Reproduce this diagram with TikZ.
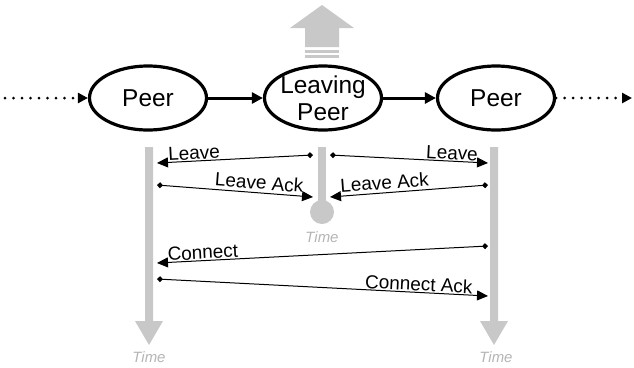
\documentclass[tikz,border=0pt]{standalone}
\usepackage{fontspec}
\setmainfont{Liberation Sans}
\usetikzlibrary{arrows.meta,shapes.geometric}
\definecolor{lifegray}{RGB}{200,200,200}
\definecolor{timegray}{RGB}{180,180,180}

\begin{document}
\begin{tikzpicture}[x=1bp,y=-1bp,
  peer/.style={ellipse,draw,line width=3.2bp,minimum width=117bp,minimum height=64bp,inner sep=0pt},
  peertext/.style={font=\fontsize{24.5}{27}\selectfont,align=center,inner sep=0pt},
  link/.style={line width=3bp,-{Triangle[length=11bp,width=11bp]}},
  dots/.style={line width=3bp,line cap=round,dash pattern=on 0bp off 8.5bp,-{Triangle[length=10bp,width=10bp]}},
  msg/.style={line width=1bp,{Diamond[length=6bp,width=6bp]}-{Triangle[length=11bp,width=10bp]}},
  msglabel/.style={font=\fontsize{19}{21}\selectfont,sloped,inner sep=0pt},
  life/.style={fill=lifegray,draw=none},
  timelabel/.style={font=\fontsize{15}{17}\itshape,text=timegray,inner sep=0pt}]
\useasboundingbox (0,0) rectangle (634,367);

% departure arrow above the leaving peer
\fill[life] (322,5) -- (354,28) -- (339,28) -- (339,47) -- (305,47) -- (305,28) -- (290,28) -- cycle;
\fill[life] (305,50) rectangle (339,53);
\fill[life] (305,55) rectangle (339,58);

% time lines
\fill[life] (145,147) -- (153,147) -- (153,321) -- (163,321) -- (149,345) -- (135,321) -- (145,321) -- cycle;
\fill[life] (490,147) -- (498,147) -- (498,321) -- (508,321) -- (494,345) -- (480,321) -- (490,321) -- cycle;
\fill[life] (318,147) rectangle (326,205);
\fill[life] (322,212) circle (12);
\node[timelabel] (tL) at (149,357) {Time};
\node[timelabel] (tR) at (496,357) {Time};
\node[timelabel] (tM) at (322,237) {Time};

% peers on the ring
\node[peer] (p1) at (148,98) {};
\node[peer] (p2) at (323,98) {};
\node[peer] (p3) at (496,98) {};
\node[peertext] (t1) at (p1.center) {Peer};
\node[peertext] (t2) at (323,98) {Leaving\\Peer};
\node[peertext] (t3) at (p3.center) {Peer};

\coordinate (inL) at (5,98);
\coordinate (outR) at (632,98);
\draw[dots] (inL) -- (p1);
\draw[link] (p1) -- (p2);
\draw[link] (p2) -- (p3);
\draw[dots] (p3) -- (outR);

% message end points
\coordinate (a1) at (313,155); \coordinate (a2) at (157,163);
\coordinate (b1) at (330,155); \coordinate (b2) at (488,163);
\coordinate (c1) at (157,185); \coordinate (c2) at (313,197);
\coordinate (d1) at (488,185); \coordinate (d2) at (330,197);
\coordinate (e1) at (488,246); \coordinate (e2) at (157,263);
\coordinate (f1) at (157,279); \coordinate (f2) at (488,296);

% messages
\draw[msg] (a1) -- node[msglabel,pos=0.76,above=1bp] (la) {Leave} (a2);
\draw[msg] (b1) -- node[msglabel,pos=0.77,above=1bp] (lb) {Leave} (b2);
\draw[msg] (c1) -- node[msglabel,pos=0.65,above=3bp] (lc) {Leave Ack} (c2);
\draw[msg] (d1) -- node[msglabel,pos=0.65,above=3bp] (ld) {Leave Ack} (d2);
\draw[msg] (e1) -- node[msglabel,pos=0.86,above=1bp] (le) {Connect} (e2);
\draw[msg] (f1) -- node[msglabel,pos=0.79,above=1bp] (lf) {Connect Ack} (f2);
\end{tikzpicture}
\end{document}
